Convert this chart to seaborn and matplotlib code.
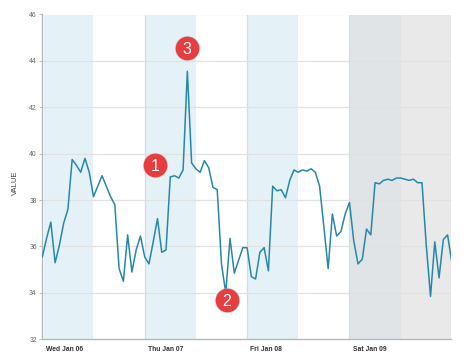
import numpy as np
import pandas as pd
import matplotlib
matplotlib.use('Agg')
import matplotlib.pyplot as plt
import seaborn as sns

# Hourly readings, starting Wed Jan 06 00:00
values = [
    35.55, 36.35, 37.05, 35.3, 36.05, 37.0, 37.6, 39.75, 39.5, 39.2, 39.8, 39.2,
    38.15, 38.6, 39.05, 38.6, 38.15, 37.8, 35.05, 34.5, 36.5, 34.9, 35.85, 36.45,
    35.55, 35.25, 36.2, 37.2, 35.75, 35.85, 39.0, 39.05, 38.95, 39.3, 43.55, 39.6,
    39.35, 39.2, 39.7, 39.4, 38.55, 38.45, 35.25, 34.0, 36.35, 34.85, 35.4, 35.95,
    35.95, 34.7, 34.6, 35.75, 35.95, 34.95, 38.6, 38.4, 38.45, 38.1, 38.85, 39.3,
    39.2, 39.3, 39.25, 39.35, 39.2, 38.6, 36.85, 35.05, 37.4, 36.45, 36.65, 37.4,
    37.9, 36.25, 35.25, 35.45, 36.75, 36.5, 38.75, 38.7, 38.85, 38.9, 38.85, 38.95,
    38.95, 38.9, 38.85, 38.9, 38.75, 38.75, 36.05, 33.85, 36.2, 34.65, 36.3, 36.5,
    35.3,
]
hours = np.arange(len(values))

day_labels = ['Wed Jan 06', 'Thu Jan 07', 'Fri Jan 08', 'Sat Jan 09']
day_starts = [0, 24, 48, 72]

# shaded periods: start hour, end hour, colour
band_starts = [0.4, 24, 48, 72, 84]
band_ends = [12, 36, 60, 84, 95.8]
band_colors = ['#e4f1f6', '#e4f1f6', '#e4f1f6', '#e0e4e7', '#e9e9e9']

# numbered callouts
note_labels = ['1', '2', '3']
note_hours = [26.46, 43.2, 33.9]
note_values = [39.53, 33.7, 44.55]

yticks = [32, 34, 36, 38, 40, 42, 44, 46]

sns.set_theme(style='white')
plt.rcParams['font.family'] = ['Liberation Sans', 'DejaVu Sans']

fig = plt.figure(figsize=(4.7, 3.64), dpi=100)
ax = fig.add_axes([42.3 / 470, 1 - 339.3 / 364, (451 - 42.3) / 470, (339.3 - 14.5) / 364])

for start, end, color in zip(band_starts, band_ends, band_colors):
    ax.axvspan(start, end, color=color, lw=0, zorder=0)
for start in day_starts[1:]:
    ax.axvline(start, color='#d3dde1', lw=0.9, zorder=1)
for y in yticks[1:]:
    ax.axhline(y, color='#e0e2e2', lw=0.9, zorder=1)

df = pd.DataFrame({'hour': hours, 'value': values})
sns.lineplot(data=df, x='hour', y='value', color='#2688a8', lw=1.1, ax=ax, zorder=3)

ax.scatter(note_hours, note_values, s=330, color='#b9b9b9', alpha=0.5, lw=0, zorder=4)
ax.scatter(note_hours, note_values, s=290, color='#e53d40', lw=0, zorder=5)
for label, x, y in zip(note_labels, note_hours, note_values):
    ax.text(x, y, label, color='white', fontsize=11.5, ha='center', va='center_baseline', zorder=6)

ax.set_xlim(0, 95.8)
ax.set_ylim(32, 46)
ax.set_yticks(yticks)
ax.set_xticks(day_starts)
ax.set_xticklabels([])
ax.tick_params(axis='y', length=2.0, width=0.7, color='#bbbbbb', labelsize=4.9, labelcolor='#666666', pad=2.0, left=True)
ax.tick_params(axis='x', length=0)

for label, start in zip(day_labels, day_starts):
    ax.annotate(label, xy=(start, 32), xytext=(2.4, -4.6), textcoords='offset points',
                ha='left', va='top', fontsize=4.9, fontweight='bold', color='#333333')

ax.set_xlabel('')
ax.set_ylabel('')
fig.text(15 / 470, 1 - 182.5 / 364, 'VALUE', rotation=90, ha='center', va='center', fontsize=5.5, color='#444444')

sns.despine(ax=ax)
ax.spines['left'].set_color('#b4b8ba')
ax.spines['left'].set_linewidth(1.0)
ax.spines['bottom'].set_color('#b4b8ba')
ax.spines['bottom'].set_linewidth(1.0)

fig.savefig('out.png', dpi=100)
